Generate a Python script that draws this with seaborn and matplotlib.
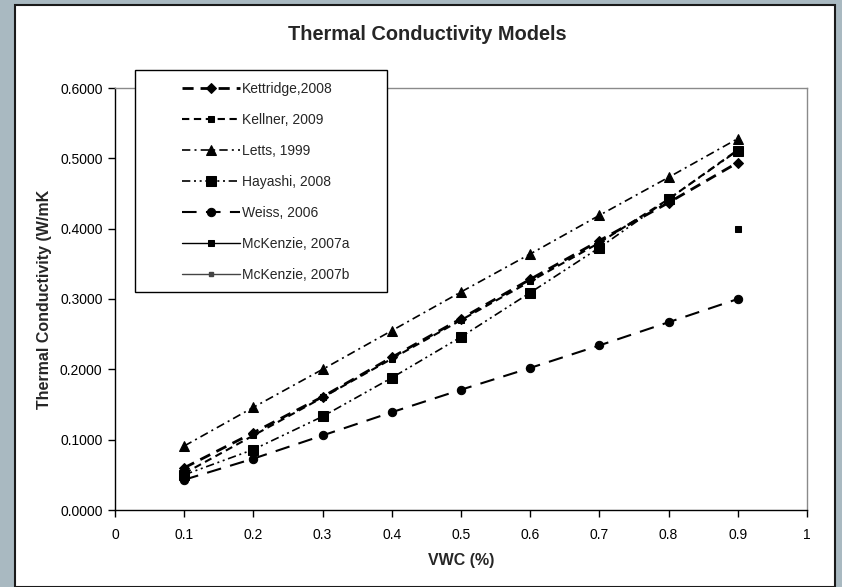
import numpy as np
import pandas as pd
import matplotlib
matplotlib.use("Agg")
import matplotlib.pyplot as plt
import seaborn as sns
from matplotlib.patches import Rectangle

# ---- data ----
vwc = [0.1, 0.2, 0.3, 0.4, 0.5, 0.6, 0.7, 0.8, 0.9]
kettridge = [0.060, 0.110, 0.161, 0.217, 0.272, 0.328, 0.383, 0.437, 0.494]
kellner = [0.052, 0.106, 0.160, 0.215, 0.270, 0.325, 0.380, 0.442, 0.512]
letts = [0.091, 0.146, 0.200, 0.255, 0.310, 0.364, 0.419, 0.473, 0.528]
hayashi = [0.050, 0.086, 0.133, 0.188, 0.246, 0.309, 0.373, 0.442, 0.511]
weiss = [0.043, 0.073, 0.106, 0.139, 0.171, 0.202, 0.234, 0.267, 0.300]
mckenzie_a = [np.nan, np.nan, np.nan, np.nan, np.nan, np.nan, np.nan, np.nan, 0.400]
mckenzie_b = [np.nan] * 9

labels = ["Kettridge,2008", "Kellner, 2009", "Letts, 1999", "Hayashi, 2008",
          "Weiss, 2006", "McKenzie, 2007a", "McKenzie, 2007b"]
x_ticks = [0, 0.1, 0.2, 0.3, 0.4, 0.5, 0.6, 0.7, 0.8, 0.9, 1]
x_tick_labels = ["0", "0.1", "0.2", "0.3", "0.4", "0.5", "0.6", "0.7", "0.8", "0.9", "1"]
y_ticks = [0.0, 0.1, 0.2, 0.3, 0.4, 0.5, 0.6]
y_tick_labels = ["0.0000", "0.1000", "0.2000", "0.3000", "0.4000", "0.5000", "0.6000"]

sns.set_theme(style="white")
plt.rcParams["font.family"] = ["Liberation Sans", "DejaVu Sans"]

W, H = 842, 587
fig = plt.figure(figsize=(W / 100, H / 100), dpi=100)
fig.patch.set_facecolor("#a9b9c1")

# white chart area
fig.patches.append(Rectangle((15 / W, 0), (835 - 15) / W, 1 - 5 / H,
                             transform=fig.transFigure, facecolor="white",
                             edgecolor="#1a1a1a", linewidth=1.5, zorder=-1))

ax = fig.add_axes([115 / W, 1 - 510 / H, (807 - 115) / W, (510 - 88) / H])
ax.set_facecolor("white")

series = [
    (kettridge, dict(marker="D", markersize=5.5, linewidth=2.0, linestyle=(0, (4, 2.5)))),
    (kellner, dict(marker="s", markersize=4.5, linewidth=1.5, linestyle=(0, (3.5, 2.2)))),
    (letts, dict(marker="^", markersize=7, linewidth=1.2, linestyle=(0, (5, 2.5, 1.2, 2.5)))),
    (hayashi, dict(marker="s", markersize=7.5, linewidth=1.2, linestyle=(0, (5, 2.2, 1.2, 2.2, 1.2, 2.2)))),
    (weiss, dict(marker="o", markersize=6, linewidth=1.5, linestyle=(0, (7, 4.5)))),
    (mckenzie_a, dict(marker="s", markersize=4.5, linewidth=1.0, linestyle="-")),
]

for (vals, kw), lab in zip(series, labels[:6]):
    df = pd.DataFrame({"VWC": vwc, "k": vals})
    sns.lineplot(data=df, x="VWC", y="k", ax=ax, color="black", label=lab,
                 markeredgecolor="black", markerfacecolor="black", **kw)

ax.plot(vwc, mckenzie_b, color="#444444", marker="s", markersize=2.5,
        linewidth=1.0, linestyle="-", label=labels[6])

if ax.get_legend() is not None:
    ax.get_legend().remove()

ax.set_xlim(0, 1)
ax.set_ylim(0, 0.6)
ax.set_xticks(x_ticks)
ax.set_xticklabels(x_tick_labels)
ax.set_yticks(y_ticks)
ax.set_yticklabels(y_tick_labels)
ax.tick_params(axis="both", which="major", direction="out", length=5, width=1,
               color="black", labelsize=10, labelcolor="black", pad=4)
ax.tick_params(axis="x", bottom=True, pad=8)
ax.tick_params(axis="y", left=True)
for s in ["left", "bottom"]:
    ax.spines[s].set_color("black")
    ax.spines[s].set_linewidth(1.0)
for s in ["top", "right"]:
    ax.spines[s].set_color("#8a8a8a")
    ax.spines[s].set_linewidth(1.0)
ax.grid(False)

ax.set_xlabel("VWC (%)", fontsize=11.5, fontweight="bold", labelpad=8)
ax.set_ylabel("Thermal Conductivity (W/mK", fontsize=11.5, fontweight="bold", labelpad=6)

fig.text(427 / W, 1 - 35 / H, "Thermal Conductivity Models", ha="center", va="center",
         fontsize=14.4, fontweight="bold")

# legend frame
fig.patches.append(Rectangle((135 / W, 1 - 292 / H), (387 - 135) / W, (292 - 70) / H,
                             transform=fig.transFigure, facecolor="white",
                             edgecolor="black", linewidth=1.0, zorder=3))
handles, labs = ax.get_legend_handles_labels()
leg = fig.legend(handles, labs, loc="upper left",
                 bbox_to_anchor=(175 / W, 1 - 75 / H), frameon=False,
                 fontsize=10, handlelength=4.2, handletextpad=0.15,
                 labelspacing=1.22, numpoints=1, borderpad=0.0)
leg.set_zorder(6)

fig.savefig("out.png", dpi=100, facecolor=fig.get_facecolor())
